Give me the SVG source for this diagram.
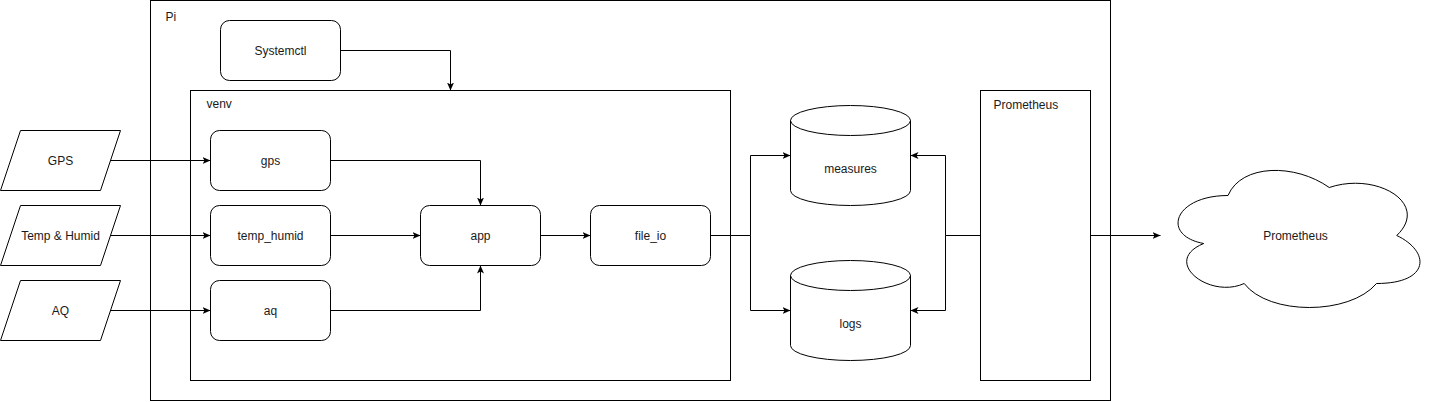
<svg xmlns="http://www.w3.org/2000/svg" width="1431" height="402" viewBox="0 0 1431 402">
<style>
.s{fill:#fff;stroke:#000;stroke-width:1}
.c{fill:none;stroke:#000;stroke-width:1}
.t{font-family:"Liberation Sans",Arial,sans-serif;font-size:12px;fill:#1a1a1a;text-anchor:middle;dominant-baseline:central}
.l{font-family:"Liberation Sans",Arial,sans-serif;font-size:12px;fill:#1a1a1a}
</style>
<defs>
<marker id="a" viewBox="0 0 8 7" refX="8" refY="3.5" markerWidth="8" markerHeight="7" markerUnits="userSpaceOnUse" orient="auto">
<path d="M0,0 L8,3.5 L0,7 L2,3.5 Z" fill="#000"/>
</marker>
</defs>
<rect width="1431" height="402" fill="#fff"/>
<g transform="translate(0.5,0.5)">
<g id="pi"><rect class="s" x="150" y="0" width="960" height="400"/><text class="l" x="165" y="20">Pi</text></g>
<g id="systemctl"><rect class="s" x="220" y="20" width="120" height="60" rx="9"/><text class="t" x="280" y="50">Systemctl</text></g>
<g id="venv"><rect class="s" x="190" y="90" width="540" height="290"/><text class="l" x="206" y="107">venv</text></g>
<g id="prometheus-box"><rect class="s" x="980" y="90" width="110" height="290"/><text class="l" x="993" y="108">Prometheus</text></g>
<g id="gps-in"><polygon class="s" points="20,130 120,130 100,190 0,190"/><text class="t" x="60" y="160">GPS</text></g>
<g id="th-in"><polygon class="s" points="20,205 120,205 100,265 0,265"/><text class="t" x="60" y="235">Temp &amp; Humid</text></g>
<g id="aq-in"><polygon class="s" points="20,280 120,280 100,340 0,340"/><text class="t" x="60" y="310">AQ</text></g>
<g id="gps"><rect class="s" x="210" y="130" width="120" height="60" rx="9"/><text class="t" x="270" y="160">gps</text></g>
<g id="temp_humid"><rect class="s" x="210" y="205" width="120" height="60" rx="9"/><text class="t" x="270" y="235">temp_humid</text></g>
<g id="aq"><rect class="s" x="210" y="280" width="120" height="60" rx="9"/><text class="t" x="270" y="310">aq</text></g>
<g id="app"><rect class="s" x="420" y="205" width="120" height="60" rx="9"/><text class="t" x="480" y="235">app</text></g>
<g id="file_io"><rect class="s" x="590" y="205" width="120" height="60" rx="9"/><text class="t" x="650" y="235">file_io</text></g>
<g id="measures"><path class="s" d="M790,120 A60,15 0 0 1 910,120 L910,190 A60,15 0 0 1 790,190 Z"/><path class="c" d="M790,120 A60,15 0 0 0 910,120"/><text class="t" x="850" y="168">measures</text></g>
<g id="logs"><path class="s" d="M790,275 A60,15 0 0 1 910,275 L910,345 A60,15 0 0 1 790,345 Z"/><path class="c" d="M790,275 A60,15 0 0 0 910,275"/><text class="t" x="850" y="323">logs</text></g>
<g id="prometheus-cloud"><path class="s" d="M1227.5,195 C1173.5,195 1160,235 1203.2,243 C1160,260.6 1208.6,299 1243.7,283 C1268,315 1349,315 1376,283 C1430,283 1430,251 1396.25,235 C1430,203 1376,171 1328.75,187 C1295,163 1241,163 1227.5,195 Z"/><text class="t" x="1295" y="235">Prometheus</text></g>
<g id="connectors">
<path class="c" d="M340,50 H450 V90" marker-end="url(#a)"/>
<path class="c" d="M110,160 H210" marker-end="url(#a)"/>
<path class="c" d="M110,235 H210" marker-end="url(#a)"/>
<path class="c" d="M110,310 H210" marker-end="url(#a)"/>
<path class="c" d="M330,160 H480 V205" marker-end="url(#a)"/>
<path class="c" d="M330,235 H420" marker-end="url(#a)"/>
<path class="c" d="M330,310 H480 V265" marker-end="url(#a)"/>
<path class="c" d="M540,235 H590" marker-end="url(#a)"/>
<path class="c" d="M710,235 H750 V155 H790" marker-end="url(#a)"/>
<path class="c" d="M750,235 V310 H790" marker-end="url(#a)"/>
<path class="c" d="M980,235 H945 V155 H910" marker-end="url(#a)"/>
<path class="c" d="M945,235 V310 H910" marker-end="url(#a)"/>
<path class="c" d="M1090,235 H1160" marker-end="url(#a)"/>
</g>
</g>
</svg>
